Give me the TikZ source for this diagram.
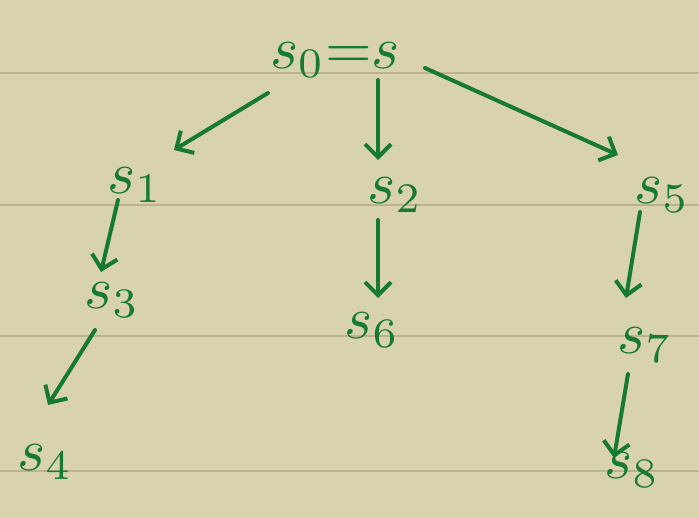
\documentclass[tikz,border=0pt]{standalone}
\usepackage{graphicx}
\usetikzlibrary{arrows.meta}
\definecolor{paper}{RGB}{216,211,174}
\definecolor{rule}{RGB}{188,178,146}
\definecolor{ink}{RGB}{22,122,52}
% large hand-sized state label
\newcommand{\statelbl}[1]{\scalebox{6}{$#1$}}
\begin{document}
\begin{tikzpicture}[x=1pt,y=-1pt,
  lbl/.style={text=ink,inner sep=0pt},
  edge/.style={draw=ink,line width=4pt,line cap=round,
    -{Straight Barb[length=13pt,width=26pt,line width=4pt]}}]
  % paper with ruled lines
  \fill[paper] (0,0) rectangle (699,518);
  \useasboundingbox (0,0) rectangle (699,518);
  \foreach \yy in {73,205,336,471}
    \draw[rule,line width=2.2pt] (0,\yy) -- (699,\yy);
  % states
  \node[lbl] (s0) at (335,60) {\statelbl{s_0{=}s}};
  \node[lbl] (s1) at (135,185) {\statelbl{s_1}};
  \node[lbl] (s2) at (395,195) {\statelbl{s_2}};
  \node[lbl] (s5) at (662,195) {\statelbl{s_5}};
  \node[lbl] (s3) at (112,300) {\statelbl{s_3}};
  \node[lbl] (s6) at (372,330) {\statelbl{s_6}};
  \node[lbl] (s7) at (645,345) {\statelbl{s_7}};
  \node[lbl] (s4) at (45,462) {\statelbl{s_4}};
  \node[lbl] (s8) at (632,470) {\statelbl{s_8}};
  % anchor points of the strokes
  \coordinate (a01) at (268,93);  \coordinate (b01) at (174,150);
  \coordinate (a02) at (378,80);  \coordinate (b02) at (378,160);
  \coordinate (a05) at (425,68);  \coordinate (b05) at (618,155);
  \coordinate (a13) at (118,200); \coordinate (b13) at (101,272);
  \coordinate (a26) at (378,220); \coordinate (b26) at (378,298);
  \coordinate (a57) at (640,212); \coordinate (b57) at (626,298);
  \coordinate (a34) at (95,330);  \coordinate (b34) at (48,405);
  \coordinate (a78) at (628,374); \coordinate (b78) at (614,458);
  % transitions
  \draw[edge] (a01) -- (b01);
  \draw[edge] (a02) -- (b02);
  \draw[edge] (a05) -- (b05);
  \draw[edge] (a13) -- (b13);
  \draw[edge] (a26) -- (b26);
  \draw[edge] (a57) -- (b57);
  \draw[edge] (a34) -- (b34);
  \draw[edge] (a78) -- (b78);
\end{tikzpicture}
\end{document}
